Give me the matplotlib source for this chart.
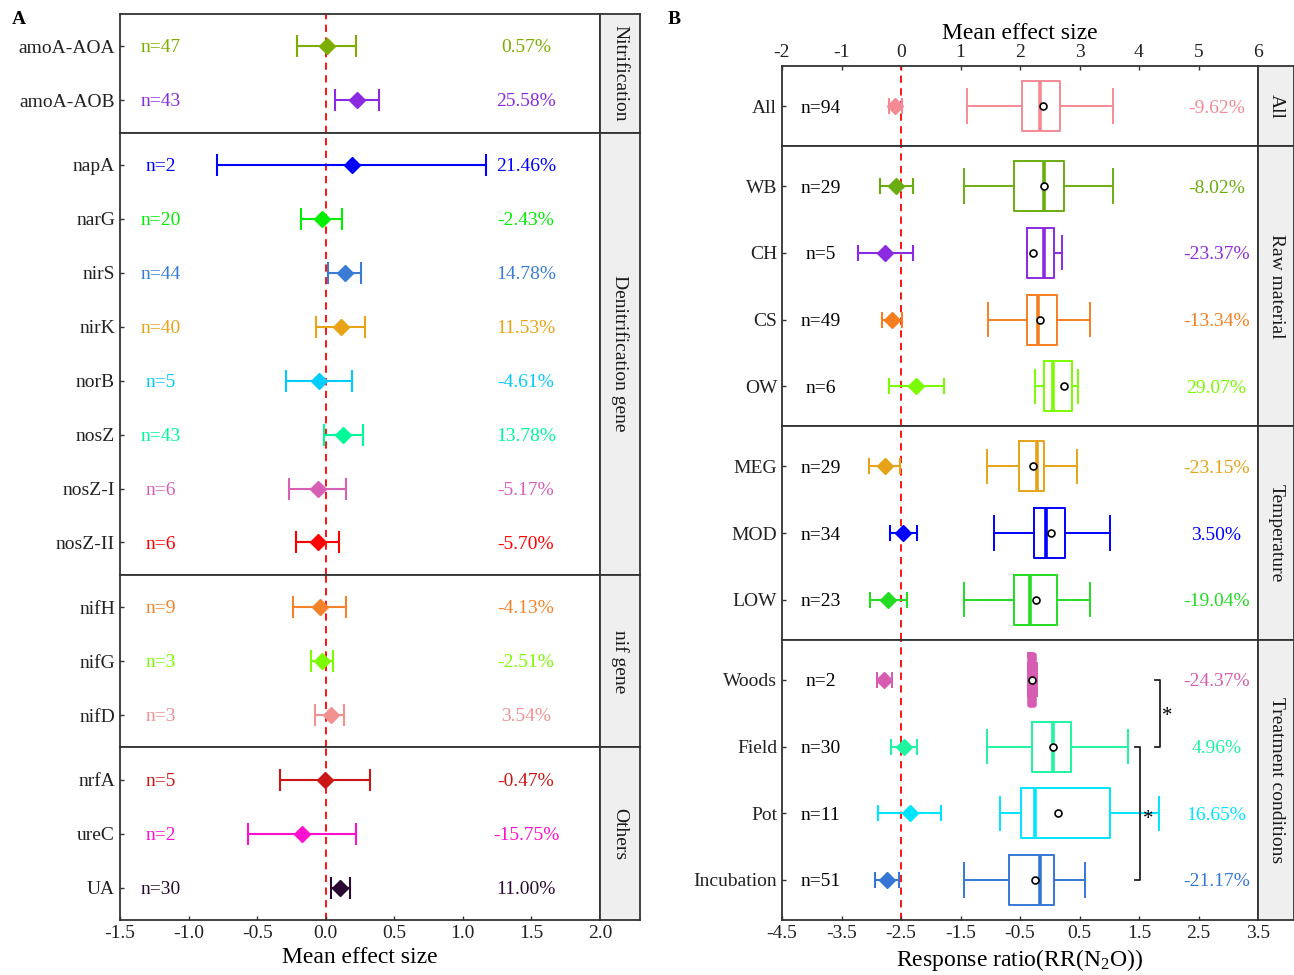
import numpy as np
import matplotlib.pyplot as plt

plt.rcParams['font.family'] = ['Liberation Serif', 'DejaVu Serif']
plt.rcParams['axes.unicode_minus'] = False
plt.rcParams['mathtext.fontset'] = 'stix'

# ---- panel A: functional genes ----
genes = ['amoA-AOA', 'amoA-AOB', 'napA', 'narG', 'nirS', 'nirK', 'norB', 'nosZ',
         'nosZ-I', 'nosZ-II', 'nifH', 'nifG', 'nifD', 'nrfA', 'ureC', 'UA']
gene_group = ['Nitrification'] * 2 + ['Denitrification gene'] * 8 + ['nif gene'] * 3 + ['Others'] * 3
gene_n = [47, 43, 2, 20, 44, 40, 5, 43, 6, 6, 9, 3, 3, 5, 2, 30]
gene_mean = [0.006, 0.228, 0.194, -0.025, 0.138, 0.109, -0.047, 0.129,
             -0.053, -0.059, -0.042, -0.025, 0.035, -0.005, -0.171, 0.104]
gene_lo = [-0.21, 0.07, -0.79, -0.18, 0.02, -0.07, -0.29, -0.01,
           -0.27, -0.22, -0.24, -0.11, -0.08, -0.33, -0.57, 0.04]
gene_hi = [0.22, 0.39, 1.17, 0.12, 0.26, 0.29, 0.19, 0.27,
           0.15, 0.10, 0.15, 0.05, 0.13, 0.32, 0.22, 0.18]
gene_pct = ['0.57%', '25.58%', '21.46%', '-2.43%', '14.78%', '11.53%', '-4.61%', '13.78%',
            '-5.17%', '-5.70%', '-4.13%', '-2.51%', '3.54%', '-0.47%', '-15.75%', '11.00%']
groups_a = ['Nitrification', 'Denitrification gene', 'nif gene', 'Others']
gene_colors = ['#7CAE00', '#8A2BE2', '#0000FF', '#00EE00', '#3A7BD5', '#E8A317',
               '#00CCFF', '#00FA9A', '#D85FB6', '#FF0000', '#F4822A', '#7CFC00',
               '#F39191', '#CC1616', '#FF10D0', '#2A0A30']

# ---- panel B: N2O ----
cats = ['All', 'WB', 'CH', 'CS', 'OW', 'MEG', 'MOD', 'LOW', 'Woods', 'Field', 'Pot', 'Incubation']
cat_group = ['All'] + ['Raw material'] * 4 + ['Temperature'] * 3 + ['Treatment conditions'] * 4
cat_n = [94, 29, 5, 49, 6, 29, 34, 23, 2, 30, 11, 51]
es_mean = [-0.101, -0.084, -0.266, -0.143, 0.255, -0.263, 0.034, -0.211, -0.279, 0.048, 0.154, -0.238]
es_lo = [-0.20, -0.35, -0.73, -0.32, -0.21, -0.53, -0.19, -0.52, -0.40, -0.17, -0.39, -0.44]
es_hi = [0.01, 0.20, 0.20, 0.02, 0.73, -0.01, 0.27, 0.10, -0.15, 0.27, 0.68, -0.04]
cat_pct = ['-9.62%', '-8.02%', '-23.37%', '-13.34%', '29.07%', '-23.15%', '3.50%', '-19.04%',
           '-24.37%', '4.96%', '16.65%', '-21.17%']
rr_wlo = [-1.39, -1.44, -0.38, -1.04, -0.24, -1.05, -0.93, -1.44, -0.36, -1.05, -0.84, -1.44]
rr_q1 = [-0.46, -0.60, -0.38, -0.38, -0.10, -0.51, -0.27, -0.60, -0.34, -0.29, -0.49, -0.68]
rr_med = [-0.17, -0.10, -0.10, -0.20, 0.05, -0.22, -0.07, -0.34, -0.30, 0.05, -0.25, -0.17]
rr_q3 = [0.18, 0.24, 0.07, 0.13, 0.37, -0.09, 0.26, 0.13, -0.27, 0.35, 1.01, 0.07]
rr_whi = [1.06, 1.06, 0.21, 0.68, 0.47, 0.46, 1.01, 0.68, -0.22, 1.31, 1.84, 0.59]
rr_mean = [-0.11, -0.09, -0.28, -0.17, 0.24, -0.28, 0.02, -0.23, -0.30, 0.05, 0.14, -0.25]
groups_b = ['All', 'Raw material', 'Temperature', 'Treatment conditions']
cat_colors = ['#F48A93', '#6AAD10', '#8A2BE2', '#F57F20', '#7CFC00', '#E6A317',
              '#0000FF', '#22DD22', '#D65DB1', '#1DF5A0', '#00E5FF', '#3677D6']
shift = 2.5  # mean effect size = response ratio axis + shift

W, H = 1294, 975
fig = plt.figure(figsize=(W / 100, H / 100), dpi=100)
EDGE = '#333333'


def px(x0, y0, x1, y1):
    return [x0 / W, 1 - y1 / H, (x1 - x0) / W, (y1 - y0) / H]


def make_facets(x0, x1, xs, y0, y1, groups, group_of):
    counts = [group_of.count(g) for g in groups]
    units = [c + 0.2 for c in counts]
    scale = (y1 - y0) / sum(units)
    out = []
    top = y0
    for g, c, u in zip(groups, counts, units):
        bot = top + u * scale
        ax = fig.add_axes(px(x0, top, x1, bot))
        sax = fig.add_axes(px(x1, top, xs, bot))
        sax.set_facecolor('#EFEFEF')
        sax.set_xticks([])
        sax.set_yticks([])
        sax.text(0.5, 0.5, g, rotation=270, ha='center', va='center', fontsize=14,
                 color='#1A1A1A', transform=sax.transAxes)
        for a in (ax, sax):
            for s in a.spines.values():
                s.set_linewidth(1.3)
                s.set_color(EDGE)
        ax.set_ylim(c - 0.4, -0.6)
        ax.tick_params(axis='both', direction='in', length=3, width=1, colors=EDGE,
                       labelsize=14, labelcolor='#222222')
        ax.tick_params(axis='x', bottom=False, labelbottom=False)
        idx = [i for i, gg in enumerate(group_of) if gg == g]
        out.append((ax, idx))
        top = bot
    return out


# ---- draw panel A ----
facets_a = make_facets(120, 600, 640, 14, 920, groups_a, gene_group)
for ax, idx in facets_a:
    ax.set_xlim(-1.5, 2.0)
    ax.axvline(0, color='red', ls=(0, (4, 3)), lw=1.3, zorder=1)
    for j, i in enumerate(idx):
        c = gene_colors[i]
        ax.errorbar(gene_mean[i], j, xerr=[[gene_mean[i] - gene_lo[i]], [gene_hi[i] - gene_mean[i]]],
                    fmt='none', ecolor=c, elinewidth=1.5, capsize=8, capthick=1.5, zorder=2)
        ax.plot(gene_mean[i], j, 'D', color=c, ms=8.5, zorder=3)
        ax.text(-1.2, j + 0.03, 'n=%d' % gene_n[i], color=c, ha='center', va='center', fontsize=14)
        ax.text(1.46, j + 0.03, gene_pct[i], color=c, ha='center', va='center', fontsize=14)
    ax.set_yticks(range(len(idx)))
    ax.set_yticklabels([genes[i] for i in idx])
ax_a = facets_a[-1][0]
ax_a.tick_params(axis='x', bottom=True, labelbottom=True)
ax_a.set_xticks(np.arange(-1.5, 2.01, 0.5))
ax_a.set_xticklabels(['%.1f' % v for v in np.arange(-1.5, 2.01, 0.5)])
ax_a.set_xlabel('Mean effect size', fontsize=17, labelpad=4)

# ---- draw panel B ----
facets_b = make_facets(782, 1258, 1294, 66, 920, groups_b, cat_group)
for ax, idx in facets_b:
    ax.set_xlim(-4.5, 3.5)
    ax.axvline(-shift, color='red', ls=(0, (4, 3)), lw=1.3, zorder=1)
    stats = [dict(whislo=rr_wlo[i], q1=rr_q1[i], med=rr_med[i], q3=rr_q3[i],
                  whishi=rr_whi[i], mean=rr_mean[i], fliers=[]) for i in idx]
    art = ax.bxp(stats, positions=range(len(idx)), widths=0.75, capwidths=0.5,
                 orientation='horizontal', showmeans=True, manage_ticks=False,
                 meanprops=dict(marker='o', mfc='white', mec='black', ms=5, mew=1.2))
    for j, i in enumerate(idx):
        c = cat_colors[i]
        art['boxes'][j].set(color=c, lw=1.4)
        art['medians'][j].set(color=c, lw=2.6)
        for k in (2 * j, 2 * j + 1):
            art['whiskers'][k].set(color=c, lw=1.4)
            art['caps'][k].set(color=c, lw=1.4)
        if cats[i] == 'Woods':
            art['boxes'][j].set(lw=4)
        m = es_mean[i] - shift
        ax.errorbar(m, j, xerr=[[es_mean[i] - es_lo[i]], [es_hi[i] - es_mean[i]]],
                    fmt='none', ecolor=c, elinewidth=1.5, capsize=6, capthick=1.5, zorder=2)
        ax.plot(m, j, 'D', color=c, ms=8.5, zorder=3)
        ax.text(-3.85, j + 0.03, 'n=%d' % cat_n[i], color='black', ha='center', va='center', fontsize=14)
        ax.text(2.8, j + 0.03, cat_pct[i], color=c, ha='center', va='center', fontsize=14)
    ax.set_yticks(range(len(idx)))
    ax.set_yticklabels([cats[i] for i in idx])

# significance brackets in the treatment facet
ax_t = facets_b[-1][0]
ax_t.plot([1.77, 1.85, 1.85, 1.77], [0, 0, 1, 1], color='#222222', lw=1.3)
ax_t.plot([1.44, 1.51, 1.51, 1.44], [1, 1, 3, 3], color='#222222', lw=1.3)
ax_t.text(1.98, 0.55, '*', ha='center', va='center', fontsize=15)
ax_t.text(1.66, 2.1, '*', ha='center', va='center', fontsize=15)

ax_t.tick_params(axis='x', bottom=True, labelbottom=True)
ax_t.set_xticks(np.arange(-4.5, 3.51, 1.0))
ax_t.set_xticklabels(['%.1f' % v for v in np.arange(-4.5, 3.51, 1.0)])
ax_t.set_xlabel('Response ratio(RR(N$_\\mathregular{2}$O))', fontsize=17, labelpad=4)

ax_top = facets_b[0][0]
sec = ax_top.secondary_xaxis('top', functions=(lambda x: x + shift, lambda x: x - shift))
sec.set_xticks(range(-2, 7))
sec.tick_params(direction='in', length=3, width=1, colors=EDGE, labelsize=14, labelcolor='#222222')
sec.spines['top'].set_visible(False)
sec.set_xlabel('Mean effect size', fontsize=17, labelpad=4)

fig.text(12 / W, 1 - 20 / H, 'A', fontsize=14, fontweight='bold', ha='left', va='center')
fig.text(668 / W, 1 - 20 / H, 'B', fontsize=14, fontweight='bold', ha='left', va='center')

fig.savefig('out.png', dpi=100)
